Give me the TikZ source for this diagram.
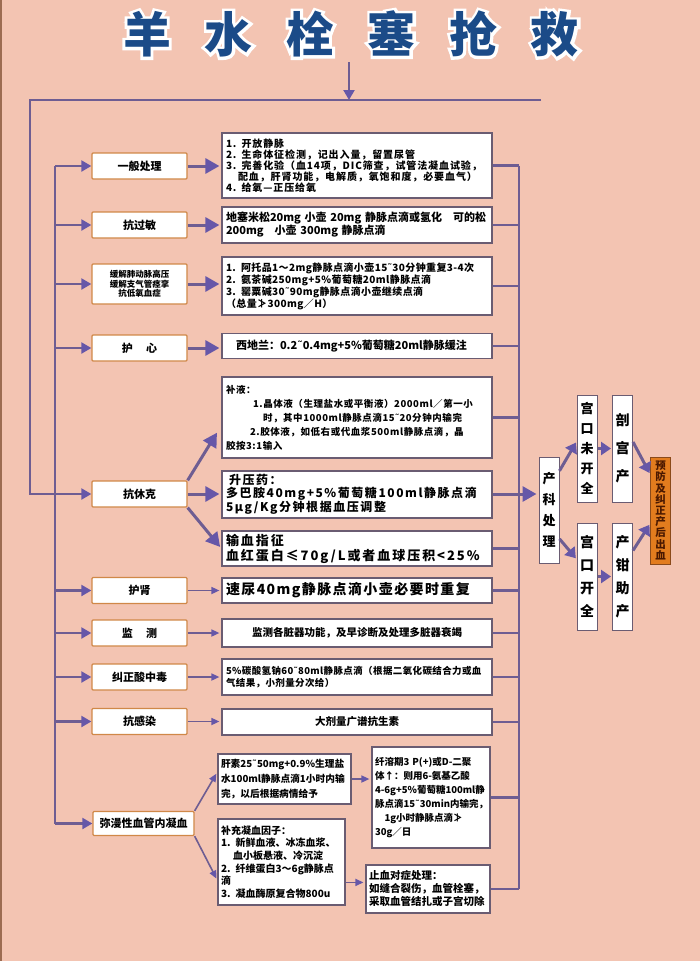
\documentclass[tikz,border=0pt]{standalone}
\usepackage{fontspec}
\setmainfont{Noto Sans CJK SC}
\newfontfamily\dejavu{DejaVu Sans}
\newcommand\tld{{\dejavu ˜}}
\usetikzlibrary{arrows.meta,calc}
\definecolor{bgc}{HTML}{F3C4B2}
\definecolor{linec}{HTML}{6E5D92}
\definecolor{arrc}{HTML}{6657A8}
\definecolor{lborder}{HTML}{D08848}
\definecolor{rborder}{HTML}{6A5C72}
\definecolor{titlec}{HTML}{1B4B88}
\definecolor{orangec}{HTML}{E27C1E}
\definecolor{obord}{HTML}{8A4A1A}
\definecolor{otext}{HTML}{4A1800}
\definecolor{framec}{HTML}{9C6C52}
\newcommand\fs[3][0]{\bfseries\fontsize{#2}{#3}\selectfont\addfontfeatures{LetterSpace=#1}}
\begin{document}
\begin{tikzpicture}[x=1pt,y=-1pt,
 lbox/.style={draw=lborder, fill=white, line width=1.3pt, rounded corners=1pt, minimum width=95pt, minimum height=26pt, inner sep=1pt, align=center, font={\fs{11}{13}}},
 rbox/.style={draw=rborder, fill=white, line width=1.2pt, minimum width=270pt, inner xsep=4pt, inner ysep=1pt, text width=262pt, align=left},
 vbox/.style={draw=rborder, fill=white, line width=1pt, minimum width=20pt, minimum height=107pt, inner sep=0pt, align=center, font={\fs{13}{20}}},
 dbox/.style={draw=rborder, fill=white, line width=1.2pt, inner xsep=3pt, inner ysep=1pt, align=left},
 bus/.style={draw=linec, line width=2.2pt},
 barr/.style={draw=linec, line width=3pt, shorten >=2pt, -{Triangle[length=14pt,width=15pt,color=arrc]}},
 carr/.style={draw=linec, line width=3pt, shorten >=1pt, -{Triangle[length=10pt,width=13pt,color=arrc]}},
 marr/.style={draw=linec, line width=2.2pt, -{Triangle[length=10pt,width=11pt,color=arrc]}},
 sarr/.style={draw=linec, line width=1.6pt, shorten >=2pt, -{Triangle[length=8pt,width=7pt,color=arrc]}},
]
\fill[bgc] (0,0) rectangle (700,961);
\useasboundingbox (0,0) rectangle (700,961);
\draw[framec, line width=2pt] (1,0) -- (1,961);

% title: white halo drawn as an emboldened copy, blue text on top
\node[text=white, font={\fs[70]{48}{56}\addfontfeatures{FakeBold=12}}] (titlehalo) at (351,34) {羊水栓塞抢救};
\node[text=titlec, font={\fs[70]{48}{56}}] (title) at (351,34) {羊水栓塞抢救};

% left boxes
\node[lbox] (a1) at (139.5,166) {一般处理};
\node[lbox] (a2) at (139.5,225) {抗过敏};
\node[lbox, minimum height=40pt, font={\fs{8.5}{9.5}}] (a3) at (139.5,284) {缓解肺动脉高压\\缓解支气管痉挛\\抗低氧血症};
\node[lbox] (a4) at (139.5,348) {护\hspace{1.2em}心};
\node[lbox] (a5) at (139.5,494) {抗休克};
\node[lbox] (a6) at (139.5,590.5) {护肾};
\node[lbox] (a7) at (139.5,633) {监\hspace{1.2em}测};
\node[lbox] (a8) at (139.5,677) {纠正酸中毒};
\node[lbox] (a9) at (139.5,721.5) {抗感染};
\node[lbox, minimum width=101pt, minimum height=24pt] (a10) at (143.5,823.5) {弥漫性血管内凝血};

% right boxes
\node[rbox, minimum height=65pt, font={\fs[9]{10}{11}}] (b1) at (357,165.5) {1. 开放静脉\\2. 生命体征检测，记出入量，留置尿管\\3. 完善化验（血14项，DIC筛查，试管法凝血试验，\\\hspace*{1.2em}配血，肝肾功能，电解质，氧饱和度，必要血气）\\4. 给氧—正压给氧};
\node[rbox, minimum height=36pt, font={\fs{11}{13}}] (b2) at (357,225) {地塞米松20mg 小壶 20mg 静脉点滴或氢化\quad 可的松\\200mg\quad 小壶 300mg 静脉点滴};
\node[rbox, minimum height=58pt, font={\fs[4]{10}{10.5}}] (b3) at (357,286) {\mbox{1. 阿托品1～2mg静脉点滴小壶15\tld 30分钟重复3-4次}\\2. 氨茶碱250mg+5\%葡萄糖20ml静脉点滴\\3. 罂粟碱30\tld 90mg静脉点滴小壶继续点滴\\（总量≯300mg／H）};
\node[rbox, minimum height=25pt, font={\fs{11}{14}}] (b4) at (357,346) {\hspace*{10pt}西地兰：0.2\tld 0.4mg+5\%葡萄糖20ml静脉缓注};
\node[rbox, minimum height=81pt, font={\fs[6]{9.5}{14}}] (b5) at (357,417.5) {补液：\\\hspace*{27pt}1.晶体液（生理盐水或平衡液）2000ml／第一小\\\hspace*{37pt}时，其中1000ml静脉点滴15\tld 20分钟内输完\\\hspace*{24pt}2.胶体液，如低右或代血浆500ml静脉点滴，晶\\胶按3:1输入};
\node[rbox, minimum height=47pt, font={\fs[13]{12}{13}}] (b6) at (357,494.5) {\hspace*{3pt}升压药：\\多巴胺40mg+5\%葡萄糖100ml静脉点滴\\5μg/Kg分钟根据血压调整};
\node[rbox, minimum height=35pt, font={\fs[15]{13}{15}}] (b7) at (357,548.5) {输血指征\\血红蛋白≤70g/L或者血球压积<25\%};
\node[rbox, minimum height=25pt, font={\fs[10]{14}{16}}] (b8) at (357,590.5) {速尿40mg静脉点滴小壶必要时重复};
\node[rbox, minimum height=28pt, align=center, font={\fs{10.5}{12}}] (b9) at (357,633) {监测各脏器功能，及早诊断及处理多脏器衰竭};
\node[rbox, minimum height=36pt, font={\fs[4]{9.5}{11.5}}] (b10) at (357,677) {5\%碳酸氢钠60\tld 80ml静脉点滴（根据二氧化碳结合力或血\\气结果，小剂量分次给）};
\node[rbox, minimum height=26pt, align=center, font={\fs{10.5}{12}}] (b11) at (357,722) {大剂量广谱抗生素};

% DIC boxes
\node[dbox, text width=127pt, minimum height=50pt, font={\fs{9.7}{15}}] (c1) at (284.5,779) {肝素25\tld 50mg+0.9\%生理盐\\水100ml静脉点滴1小时内输\\完，以后根据病情给予};
\node[dbox, text width=121pt, minimum height=86pt, font={\fs{10}{12.6}}] (c2) at (281.5,862) {补充凝血因子：\\1. 新鲜血液、冰冻血浆、\\\hspace*{1.2em}血小板悬液、冷沉淀\\2. 纤维蛋白3～6g静脉点\\滴\\3. 凝血酶原复合物800u};
\node[dbox, text width=112pt, minimum height=101pt, font={\fs{9.5}{14}}] (c3) at (431,797.5) {纤溶期3 P(+)或D-二聚\\体↑：则用6-氨基乙酸\\\mbox{4-6g+5\%葡萄糖100ml静}\\\mbox{脉点滴15\tld 30min内输完，}\\\hspace*{1em}1g小时静脉点滴≯\\30g／日};
\node[dbox, text width=118pt, minimum height=48pt, font={\fs{10.5}{13}}] (c4) at (428,889) {止血对症处理：\\如缝合裂伤，血管栓塞，\\采取血管结扎或子宫切除};

% obstetric boxes
\node[vbox, minimum height=106pt, font={\fs{13}{21}}] (p) at (549,510) {产\\科\\处\\理};
\node[vbox] (q1) at (587,448.5) {宫\\口\\未\\开\\全};
\node[vbox, font={\fs{14}{28}}] (q2) at (622.5,448.5) {剖\\宫\\产};
\node[vbox, font={\fs{14}{23}}] (q3) at (587,576.5) {宫\\口\\开\\全};
\node[vbox, font={\fs{14}{23}}] (q4) at (622.5,576.5) {产\\钳\\助\\产};
\node[vbox, fill=orangec, draw=obord, text=otext, font={\fs{10.5}{11.2}}] (q5) at (660.5,510.5) {预\\防\\及\\纠\\正\\产\\后\\出\\血};

% top connectors
\coordinate (ttop) at (349,62);
\coordinate (tbot) at (349,100);
\coordinate (tl) at (30,100);
\coordinate (tr) at (541,100);
\coordinate (il) at (55,0);
\coordinate (rb) at (519,0);
\draw[marr] (ttop) -- (tbot);
\draw[marr] (tr) -- (tl) -- (a5.west -| tl) -- (a5.west);

% inner left bus
\draw[bus] (a1.west -| il) -- (a10.west -| il);
\foreach \n in {a1,a2,a3,a4,a6,a7,a8,a9,a10}
  \draw[marr] (\n.west -| il) -- (\n.west);

% left to right arrows
\foreach \l/\r in {a1/b1,a2/b2,a3/b3,a4/b4,a5/b6}
  \draw[barr] (\l.east) -- (\l.east -| \r.west);
\coordinate (u5) at (218,431);
\draw[barr] (a5.north east) -- (u5);
\draw[barr] (a5.south east) -- (b7.west);
\foreach \l/\r in {a6/b8,a7/b9,a8/b10,a9/b11}
  \draw[sarr] (\l.east) -- (\l.east -| \r.west);

% DIC arrows
\draw[sarr] (a10.north east) -- (c1.174);
\draw[sarr] (a10.south east) -- (c2.196);
\draw[sarr] (c1.east) -- (c1.east -| c3.west);
\draw[sarr] (c4.174 -| c2.east) -- (c4.174);

% right bus
\draw[bus] (b1.east -| rb) -- (c4.east -| rb);
\foreach \n in {b1,b2,b3,b4,b5,b6,b7,b8,b9,b10,b11,c3,c4}
  \draw[bus] (\n.east) -- (\n.east -| rb);
\draw[barr] (a5.east -| rb) -- (a5.east -| p.west);

% obstetric arrows
\draw[carr] (p.75) -- (q1.147);
\draw[carr] (p.-70) -- (q3.121);
\draw[carr] (q1.east) -- (q2.west);
\draw[carr] (q3.east) -- (q4.west);
\draw[carr] (q2.32) -- (q5.106);
\draw[carr] (q4.68) -- (q5.232);
\end{tikzpicture}
\end{document}
